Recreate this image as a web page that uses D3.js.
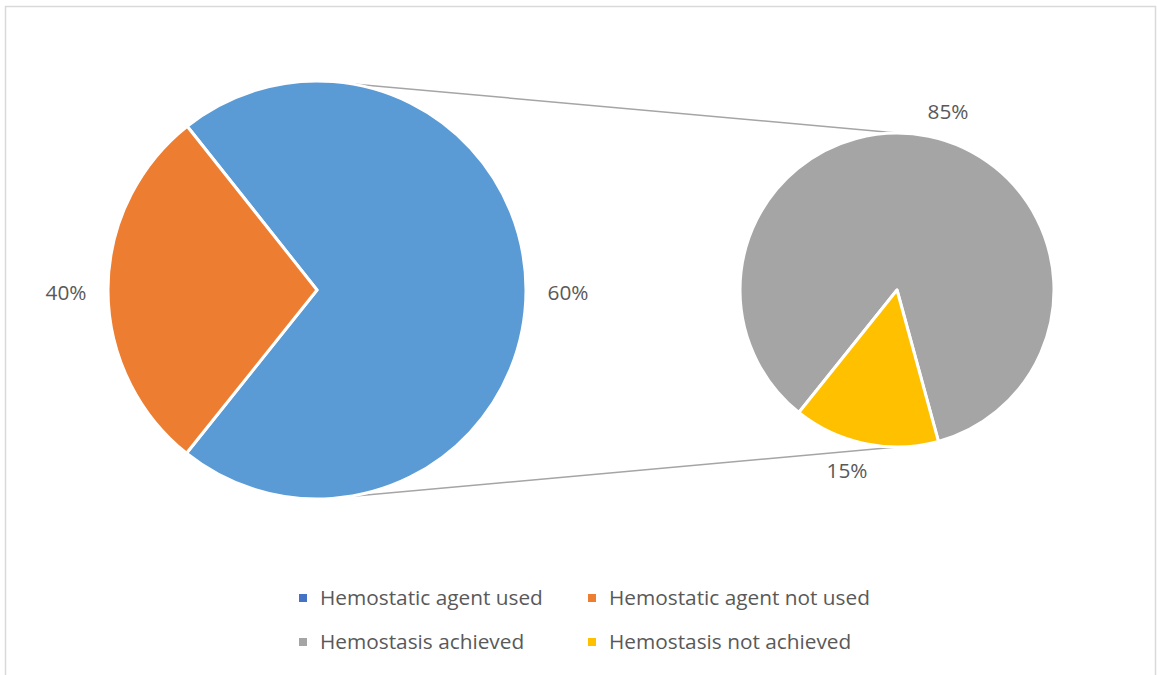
<!DOCTYPE html>
<html><head><meta charset="utf-8">
<script src="https://cdn.jsdelivr.net/npm/d3@7"></script>
<style>body{margin:0;background:#fff}svg{display:block}</style>
</head><body>
<svg id="c" width="1157" height="675"></svg>
<script>
// Primary pie (angular shares as drawn) and its labels
const primaryNames = ["Hemostatic agent used", "Hemostatic agent not used"];
const primaryValues = [71.4, 28.6];
const primaryLabels = ["60%", "40%"];
// Secondary pie
const secondaryNames = ["Hemostasis achieved", "Hemostasis not achieved"];
const secondaryValues = [85, 15];
const secondaryLabels = ["85%", "15%"];
const legendNames = ["Hemostatic agent used", "Hemostatic agent not used", "Hemostasis achieved", "Hemostasis not achieved"];
const legendColors = ["#4472C4", "#ED7D31", "#A5A5A5", "#FFC000"];

const svg = d3.select("#c");
const deg = Math.PI / 180;
const font = "'Open Sans', sans-serif";
const txt = "#595959";
const fs = 20.8;

svg.append("rect").attr("x", 5.5).attr("y", 6.5).attr("width", 1150).attr("height", 680)
  .attr("fill", "none").attr("stroke", "#d9d9d9").attr("stroke-width", 1.5);

const L = {cx: 317, cy: 290, r: 209};
const R = {cx: 897, cy: 290, r: 157};

// connector lines
function pt(c, a, r) { return [c.cx + r * Math.sin(a), c.cy - r * Math.cos(a)]; }
const conn = [[pt(L, 9.1 * deg, L.r), pt(R, 0, R.r)], [pt(L, 171 * deg, L.r), pt(R, Math.PI, R.r)]];
svg.selectAll("line.conn").data(conn).join("line").attr("class", "conn")
  .attr("x1", d => d[0][0]).attr("y1", d => d[0][1]).attr("x2", d => d[1][0]).attr("y2", d => d[1][1])
  .attr("stroke", "#a5a5a5").attr("stroke-width", 1.5);

// primary pie
const pieL = d3.pie().sort(null).startAngle(321.6 * deg).endAngle(321.6 * deg + 2 * Math.PI);
const arcL = d3.arc().innerRadius(0).outerRadius(L.r);
const gL = svg.append("g").attr("transform", `translate(${L.cx},${L.cy})`);
gL.selectAll("path").data(pieL(primaryValues)).join("path")
  .attr("d", arcL).attr("fill", (d, i) => ["#5B9BD5", "#ED7D31"][i])
  .attr("stroke", "#fff").attr("stroke-width", 3).attr("stroke-linejoin", "round");

// secondary pie
const pieR = d3.pie().sort(null).startAngle(218.7 * deg).endAngle(218.7 * deg + 2 * Math.PI);
const arcR = d3.arc().innerRadius(0).outerRadius(R.r);
const gR = svg.append("g").attr("transform", `translate(${R.cx},${R.cy})`);
gR.selectAll("path").data(pieR(secondaryValues)).join("path")
  .attr("d", arcR).attr("fill", (d, i) => ["#A5A5A5", "#FFC000"][i])
  .attr("stroke", "#fff").attr("stroke-width", 3).attr("stroke-linejoin", "round");

// data labels
const labels = [
  {t: primaryLabels[0], x: 568, y: 300},
  {t: primaryLabels[1], x: 66, y: 300},
  {t: secondaryLabels[0], x: 948, y: 119},
  {t: secondaryLabels[1], x: 847, y: 478}
];
svg.selectAll("text.lbl").data(labels).join("text").attr("class", "lbl")
  .attr("x", d => d.x).attr("y", d => d.y).attr("text-anchor", "middle")
  .attr("font-family", font).attr("font-size", fs).attr("fill", txt).text(d => d.t);

// legend
const lg = svg.append("g");
const items = lg.selectAll("g").data(legendNames).join("g")
  .attr("transform", (d, i) => `translate(${i % 2 === 0 ? 299 : 588},${i < 2 ? 605 : 649})`);
items.append("rect").attr("x", 0).attr("y", -11).attr("width", 8).attr("height", 8)
  .attr("fill", (d, i) => legendColors[i]);
items.append("text").attr("x", 21).attr("y", 0).attr("font-family", font).attr("font-size", fs)
  .attr("fill", txt).text(d => d);
</script>
</body></html>
